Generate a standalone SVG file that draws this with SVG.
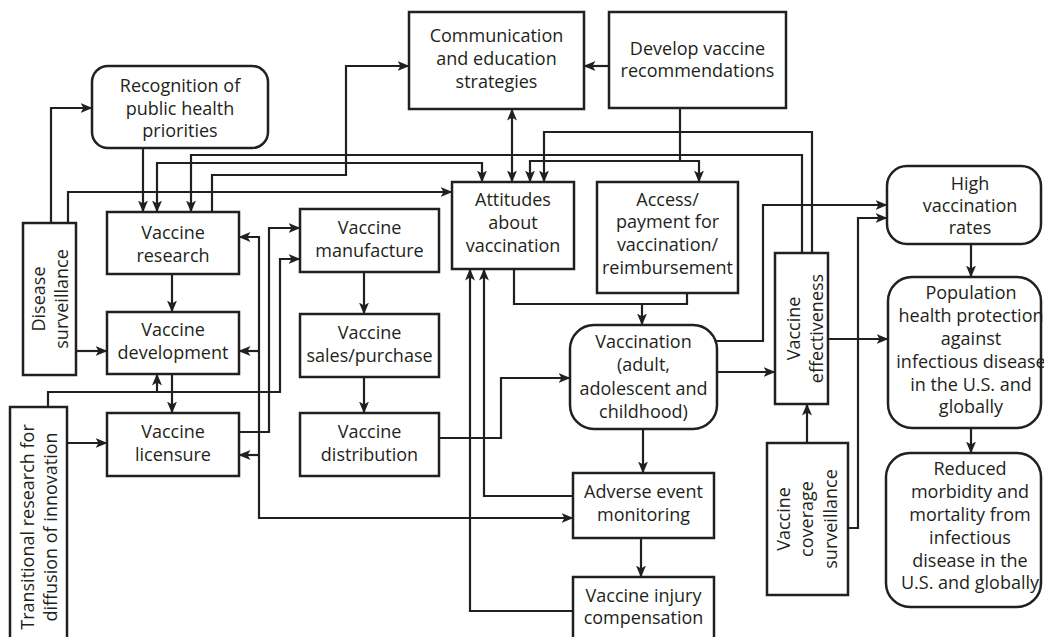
<svg xmlns="http://www.w3.org/2000/svg" width="1044" height="637" viewBox="0 0 1044 637">
<style>
.b{fill:#fff;stroke:#231f20;stroke-width:2.5}
.c{fill:none;stroke:#231f20;stroke-width:2.2}
text{font-family:"Open Sans","Noto Sans",sans-serif;font-size:18px;fill:#231f20;text-anchor:middle}
</style>
<defs>
<marker id="a" markerUnits="userSpaceOnUse" viewBox="0 0 12 10" refX="11.5" refY="5" markerWidth="12" markerHeight="10" orient="auto-start-reverse"><path d="M0,0 L12,5 L0,10 L3,5 z" fill="#231f20"/></marker>
</defs>
<rect width="1044" height="637" fill="#fff"/>

<g id="recognition"><rect class="b" x="92" y="66" width="176" height="82" rx="16"/><text x="180" y="92">Recognition of</text><text x="180" y="115">public health</text><text x="180" y="137">priorities</text></g>
<g id="communication"><rect class="b" x="409" y="12" width="175" height="97"/><text x="496.5" y="42">Communication</text><text x="496.5" y="65">and education</text><text x="496.5" y="88">strategies</text></g>
<g id="develop"><rect class="b" x="609" y="12" width="177" height="96"/><text x="697.5" y="55">Develop vaccine</text><text x="697.5" y="77">recommendations</text></g>
<g id="disease"><rect class="b" x="23" y="223" width="53" height="152"/><text transform="translate(45,299) rotate(-90)">Disease</text><text transform="translate(68,299) rotate(-90)">surveillance</text></g>
<g id="research"><rect class="b" x="107" y="212" width="132" height="62"/><text x="173" y="239">Vaccine</text><text x="173" y="262">research</text></g>
<g id="development"><rect class="b" x="107" y="312" width="132" height="62"/><text x="173" y="336">Vaccine</text><text x="173" y="359">development</text></g>
<g id="licensure"><rect class="b" x="107" y="413" width="132" height="63"/><text x="173" y="438">Vaccine</text><text x="173" y="461">licensure</text></g>
<g id="transitional"><rect class="b" x="10" y="407" width="57" height="240"/><text transform="translate(34,527) rotate(-90)">Transitional research for</text><text transform="translate(57,527) rotate(-90)">diffusion of innovation</text></g>
<g id="manufacture"><rect class="b" x="300" y="209" width="139" height="63"/><text x="369.5" y="234">Vaccine</text><text x="369.5" y="257">manufacture</text></g>
<g id="sales"><rect class="b" x="300" y="314" width="139" height="63"/><text x="369.5" y="339">Vaccine</text><text x="369.5" y="362">sales/purchase</text></g>
<g id="distribution"><rect class="b" x="300" y="413" width="139" height="63"/><text x="369.5" y="438">Vaccine</text><text x="369.5" y="461">distribution</text></g>
<g id="attitudes"><rect class="b" x="452" y="182" width="122" height="87"/><text x="513" y="206">Attitudes</text><text x="513" y="229">about</text><text x="513" y="252">vaccination</text></g>
<g id="access"><rect class="b" x="597" y="182" width="141" height="111"/><text x="667.5" y="206">Access/</text><text x="667.5" y="228">payment for</text><text x="667.5" y="251">vaccination/</text><text x="667.5" y="274">reimbursement</text></g>
<g id="vaccination"><rect class="b" x="570" y="325" width="147" height="104" rx="24"/><text x="643.5" y="348">Vaccination</text><text x="643.5" y="371">(adult,</text><text x="643.5" y="395">adolescent and</text><text x="643.5" y="418">childhood)</text></g>
<g id="adverse"><rect class="b" x="573" y="473" width="141" height="65"/><text x="643.5" y="498">Adverse event</text><text x="643.5" y="521">monitoring</text></g>
<g id="injury"><rect class="b" x="573" y="577" width="141" height="70"/><text x="643.5" y="602">Vaccine injury</text><text x="643.5" y="624">compensation</text></g>
<g id="effectiveness"><rect class="b" x="775" y="253" width="53" height="151"/><text transform="translate(800,328.5) rotate(-90)">Vaccine</text><text transform="translate(823,328.5) rotate(-90)">effectiveness</text></g>
<g id="coverage"><rect class="b" x="767" y="443" width="81" height="152"/><text transform="translate(790,519) rotate(-90)">Vaccine</text><text transform="translate(813,519) rotate(-90)">coverage</text><text transform="translate(837,519) rotate(-90)">surveillance</text></g>
<g id="high"><rect class="b" x="887" y="166" width="154" height="78" rx="20"/><text x="970" y="190">High</text><text x="970" y="212">vaccination</text><text x="970" y="234">rates</text></g>
<g id="population"><rect class="b" x="888" y="277" width="153" height="151" rx="24"/><text x="971" y="299">Population</text><text x="971" y="322">health protection</text><text x="971" y="345">against</text><text x="971" y="368">infectious disease</text><text x="971" y="391">in the U.S. and</text><text x="971" y="413">globally</text></g>
<g id="reduced"><rect class="b" x="886" y="453" width="155" height="154" rx="24"/><text x="970" y="475">Reduced</text><text x="970" y="498">morbidity and</text><text x="970" y="521">mortality from</text><text x="970" y="544">infectious</text><text x="970" y="567">disease in the</text><text x="970" y="589">U.S. and globally</text></g>

<g id="connectors">
<path class="c" d="M51,223V108H92" marker-end="url(#a)"/>
<path class="c" d="M68,223V192H452" marker-end="url(#a)"/>
<path class="c" d="M76,351H107" marker-end="url(#a)"/>
<path class="c" d="M143,148V212" marker-end="url(#a)"/>
<path class="c" d="M157,212V163H482V182" marker-start="url(#a)" marker-end="url(#a)"/>
<path class="c" d="M802,253V155H191V212" marker-end="url(#a)"/>
<path class="c" d="M812,253V132H544V182" marker-end="url(#a)"/>
<path class="c" d="M212,212V175H346V66H409" marker-end="url(#a)"/>
<path class="c" d="M609,66H584" marker-end="url(#a)"/>
<path class="c" d="M512,109V182" marker-start="url(#a)" marker-end="url(#a)"/>
<path class="c" d="M680,108V161"/>
<path class="c" d="M530,182V161H699V182" marker-start="url(#a)" marker-end="url(#a)"/>
<path class="c" d="M172,274V312" marker-end="url(#a)"/>
<path class="c" d="M172,374V413" marker-end="url(#a)"/>
<path class="c" d="M67,443H107" marker-end="url(#a)"/>
<path class="c" d="M48,407V392H280V259H300" marker-end="url(#a)"/>
<path class="c" d="M157,392V374" marker-end="url(#a)"/>
<path class="c" d="M239,432H269V228H300" marker-end="url(#a)"/>
<path class="c" d="M573,518H259V237H239" marker-start="url(#a)" marker-end="url(#a)"/>
<path class="c" d="M259,351H239" marker-end="url(#a)"/>
<path class="c" d="M259,455H239" marker-end="url(#a)"/>
<path class="c" d="M364,272V314" marker-end="url(#a)"/>
<path class="c" d="M364,377V413" marker-end="url(#a)"/>
<path class="c" d="M439,438H501V378H570" marker-end="url(#a)"/>
<path class="c" d="M514,269V304H687V293"/>
<path class="c" d="M642,304V325" marker-end="url(#a)"/>
<path class="c" d="M643,429V473" marker-end="url(#a)"/>
<path class="c" d="M641,538V577" marker-end="url(#a)"/>
<path class="c" d="M573,496H484V269" marker-end="url(#a)"/>
<path class="c" d="M573,611H470V269" marker-end="url(#a)"/>
<path class="c" d="M717,372H775" marker-end="url(#a)"/>
<path class="c" d="M715,341H763V205H887" marker-end="url(#a)"/>
<path class="c" d="M848,528H858V218H887" marker-end="url(#a)"/>
<path class="c" d="M807,443V404" marker-end="url(#a)"/>
<path class="c" d="M828,339H888" marker-end="url(#a)"/>
<path class="c" d="M971,244V277" marker-end="url(#a)"/>
<path class="c" d="M971,428V453" marker-end="url(#a)"/>
</g>
</svg>
